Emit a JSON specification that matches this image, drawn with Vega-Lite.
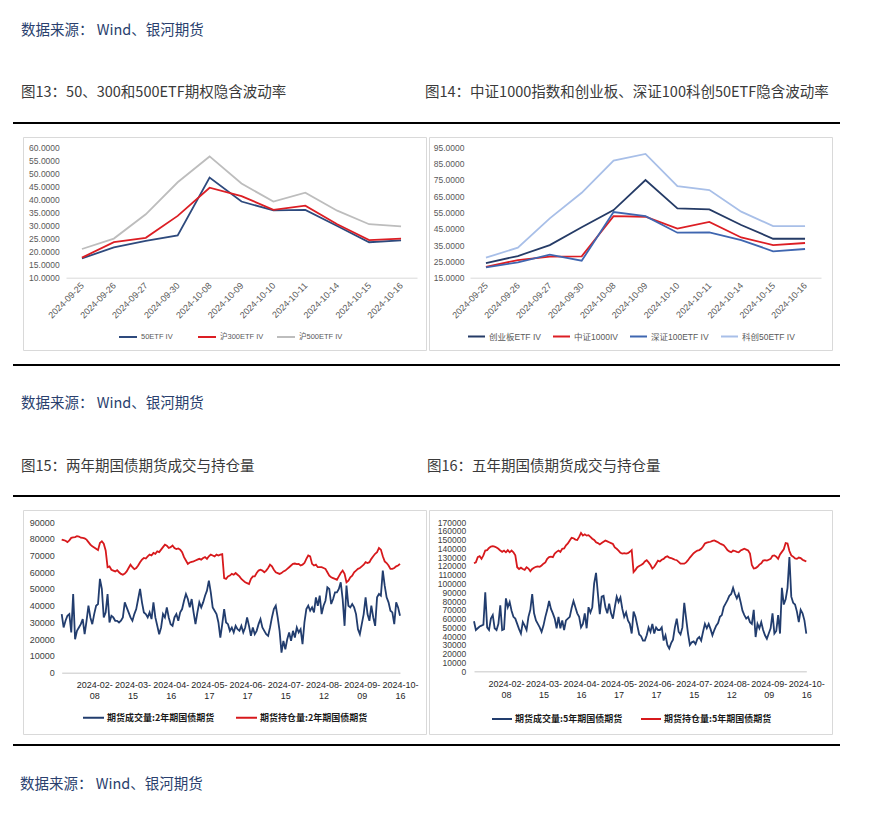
{
"$schema": "https://vega.github.io/schema/vega-lite/v6.json",
"background": "white",
"padding": {"left": 13, "top": 23, "right": 0, "bottom": 0},
"config": {
  "view": {"stroke": null},
  "font": "Liberation Sans, Noto Sans CJK SC",
  "axis": {"labelFont": "Liberation Sans, Noto Sans CJK SC", "title": null, "grid": false, "ticks": false},
  "legend": {"labelFont": "Liberation Sans, Noto Sans CJK SC", "title": null}
},
"datasets": {
"iv1": [
{"d":"2024-09-25","a":17.4,"b":17.7,"c":21.0},
{"d":"2024-09-26","a":21.6,"b":23.6,"c":25.0},
{"d":"2024-09-27","a":24.1,"b":25.3,"c":34.3},
{"d":"2024-09-30","a":26.2,"b":33.7,"c":46.6},
{"d":"2024-10-08","a":48.4,"b":44.5,"c":56.5},
{"d":"2024-10-09","a":39.2,"b":41.3,"c":46.1},
{"d":"2024-10-10","a":35.8,"b":36.0,"c":39.2},
{"d":"2024-10-11","a":36.0,"b":37.6,"c":42.6},
{"d":"2024-10-14","a":29.8,"b":30.5,"c":35.7},
{"d":"2024-10-15","a":23.6,"b":24.4,"c":30.5},
{"d":"2024-10-16","a":24.3,"b":25.0,"c":29.7}
],
"iv2": [
{"d":"2024-09-25","a":24.0,"b":21.7,"c":21.3,"e":27.3},
{"d":"2024-09-26","a":28.3,"b":25.8,"c":24.4,"e":33.4},
{"d":"2024-09-27","a":35.0,"b":27.9,"c":29.1,"e":51.4},
{"d":"2024-09-30","a":45.9,"b":28.1,"c":25.4,"e":67.1},
{"d":"2024-10-08","a":56.5,"b":52.8,"c":55.3,"e":86.8},
{"d":"2024-10-09","a":74.9,"b":52.4,"c":52.8,"e":90.9},
{"d":"2024-10-10","a":57.5,"b":45.1,"c":42.6,"e":71.2},
{"d":"2024-10-11","a":56.9,"b":49.2,"c":42.8,"e":68.8},
{"d":"2024-10-14","a":47.3,"b":39.7,"c":38.1,"e":55.5},
{"d":"2024-10-15","a":38.9,"b":35.0,"c":31.2,"e":46.7},
{"d":"2024-10-16","a":38.9,"b":36.3,"c":32.6,"e":46.7}
],
"bond": [
{"d":"2024-01-16","v2":35000,"o2":79500,"v5":57000,"o5":123000},
{"d":"2024-01-17","v2":27000,"o2":79200,"v5":47000,"o5":124000},
{"d":"2024-01-18","v2":31000,"o2":78800,"v5":49000,"o5":130000},
{"d":"2024-01-19","v2":34000,"o2":78000,"v5":51000,"o5":131000},
{"d":"2024-01-22","v2":35000,"o2":79000,"v5":52000,"o5":128000},
{"d":"2024-01-23","v2":24000,"o2":80500,"v5":53000,"o5":132000},
{"d":"2024-01-24","v2":47000,"o2":80800,"v5":90000,"o5":137500},
{"d":"2024-01-25","v2":20000,"o2":81000,"v5":50000,"o5":138000},
{"d":"2024-01-26","v2":25000,"o2":81500,"v5":47000,"o5":140500},
{"d":"2024-01-29","v2":27000,"o2":81300,"v5":60000,"o5":142000},
{"d":"2024-01-30","v2":29000,"o2":80600,"v5":64000,"o5":142500},
{"d":"2024-01-31","v2":32000,"o2":80500,"v5":49000,"o5":142000},
{"d":"2024-02-01","v2":23000,"o2":80200,"v5":47000,"o5":141000},
{"d":"2024-02-02","v2":31000,"o2":79500,"v5":54000,"o5":139500},
{"d":"2024-02-05","v2":40000,"o2":78000,"v5":75000,"o5":137500},
{"d":"2024-02-06","v2":33000,"o2":76500,"v5":47000,"o5":136000},
{"d":"2024-02-07","v2":29000,"o2":75500,"v5":48000,"o5":137500},
{"d":"2024-02-08","v2":35000,"o2":74800,"v5":83000,"o5":135500},
{"d":"2024-02-19","v2":40000,"o2":74000,"v5":73000,"o5":138000},
{"d":"2024-02-20","v2":41000,"o2":73200,"v5":79000,"o5":135500},
{"d":"2024-02-21","v2":56000,"o2":77500,"v5":69000,"o5":137500},
{"d":"2024-02-22","v2":50000,"o2":78500,"v5":62000,"o5":135500},
{"d":"2024-02-23","v2":33000,"o2":77000,"v5":60000,"o5":132000},
{"d":"2024-02-26","v2":36000,"o2":73000,"v5":54000,"o5":118500},
{"d":"2024-02-27","v2":47000,"o2":63000,"v5":48000,"o5":116500},
{"d":"2024-02-28","v2":30000,"o2":63500,"v5":43000,"o5":118000},
{"d":"2024-02-29","v2":34000,"o2":61500,"v5":56000,"o5":116500},
{"d":"2024-03-01","v2":33000,"o2":61000,"v5":52000,"o5":115500},
{"d":"2024-03-04","v2":31000,"o2":60500,"v5":47000,"o5":118500},
{"d":"2024-03-05","v2":31000,"o2":61200,"v5":62000,"o5":117000},
{"d":"2024-03-06","v2":30000,"o2":60000,"v5":70000,"o5":114000},
{"d":"2024-03-07","v2":31000,"o2":59000,"v5":88000,"o5":116500},
{"d":"2024-03-08","v2":33000,"o2":58500,"v5":66000,"o5":118000},
{"d":"2024-03-11","v2":42000,"o2":59200,"v5":58000,"o5":119000},
{"d":"2024-03-12","v2":39000,"o2":60500,"v5":54000,"o5":119500},
{"d":"2024-03-13","v2":36000,"o2":62500,"v5":50000,"o5":119000},
{"d":"2024-03-14","v2":33000,"o2":64500,"v5":45000,"o5":120500},
{"d":"2024-03-15","v2":31000,"o2":63000,"v5":52000,"o5":122500},
{"d":"2024-03-18","v2":35000,"o2":61800,"v5":62000,"o5":124000},
{"d":"2024-03-19","v2":38000,"o2":62500,"v5":70000,"o5":128000},
{"d":"2024-03-20","v2":44000,"o2":64000,"v5":80000,"o5":130000},
{"d":"2024-03-21","v2":50000,"o2":66000,"v5":71000,"o5":130500},
{"d":"2024-03-22","v2":42000,"o2":67500,"v5":66000,"o5":130000},
{"d":"2024-03-25","v2":36000,"o2":68500,"v5":60000,"o5":134000},
{"d":"2024-03-26","v2":35000,"o2":68200,"v5":49000,"o5":136000},
{"d":"2024-03-27","v2":33000,"o2":69500,"v5":62000,"o5":137500},
{"d":"2024-03-28","v2":36000,"o2":70500,"v5":49000,"o5":136000},
{"d":"2024-03-29","v2":32000,"o2":70000,"v5":58000,"o5":139500},
{"d":"2024-04-01","v2":42000,"o2":71500,"v5":47000,"o5":140000},
{"d":"2024-04-02","v2":33000,"o2":71000,"v5":58000,"o5":143500},
{"d":"2024-04-03","v2":28000,"o2":72500,"v5":60000,"o5":145500},
{"d":"2024-04-08","v2":23000,"o2":72000,"v5":62000,"o5":149000},
{"d":"2024-04-09","v2":27000,"o2":73500,"v5":72000,"o5":152000},
{"d":"2024-04-10","v2":35000,"o2":75000,"v5":80000,"o5":151500},
{"d":"2024-04-11","v2":33000,"o2":76500,"v5":73000,"o5":150000},
{"d":"2024-04-12","v2":39000,"o2":75800,"v5":66000,"o5":149500},
{"d":"2024-04-15","v2":33000,"o2":74500,"v5":62000,"o5":153000},
{"d":"2024-04-16","v2":29000,"o2":75000,"v5":50000,"o5":157500},
{"d":"2024-04-17","v2":28000,"o2":76000,"v5":54000,"o5":154500},
{"d":"2024-04-18","v2":33000,"o2":74500,"v5":66000,"o5":156000},
{"d":"2024-04-19","v2":35000,"o2":73800,"v5":49000,"o5":154500},
{"d":"2024-04-22","v2":31000,"o2":74200,"v5":73000,"o5":155000},
{"d":"2024-04-23","v2":36000,"o2":73500,"v5":67000,"o5":153000},
{"d":"2024-04-24","v2":38000,"o2":72000,"v5":73000,"o5":151000},
{"d":"2024-04-25","v2":43000,"o2":69000,"v5":100000,"o5":149500},
{"d":"2024-04-26","v2":47000,"o2":67000,"v5":112000,"o5":147000},
{"d":"2024-04-29","v2":44000,"o2":65000,"v5":88000,"o5":146000},
{"d":"2024-04-30","v2":39000,"o2":65800,"v5":65000,"o5":144500},
{"d":"2024-05-06","v2":44000,"o2":66200,"v5":85000,"o5":146000},
{"d":"2024-05-07","v2":36000,"o2":66500,"v5":86000,"o5":147500},
{"d":"2024-05-08","v2":29000,"o2":67000,"v5":73000,"o5":149000},
{"d":"2024-05-09","v2":36000,"o2":67500,"v5":66000,"o5":148000},
{"d":"2024-05-10","v2":42000,"o2":68000,"v5":77000,"o5":147000},
{"d":"2024-05-13","v2":39000,"o2":67500,"v5":66000,"o5":146000},
{"d":"2024-05-14","v2":42000,"o2":68500,"v5":60000,"o5":145000},
{"d":"2024-05-15","v2":46000,"o2":69000,"v5":73000,"o5":141000},
{"d":"2024-05-16","v2":49000,"o2":68000,"v5":85000,"o5":139500},
{"d":"2024-05-17","v2":55000,"o2":69500,"v5":79000,"o5":137500},
{"d":"2024-05-20","v2":48000,"o2":70500,"v5":84000,"o5":135000},
{"d":"2024-05-21","v2":39000,"o2":70000,"v5":71000,"o5":134000},
{"d":"2024-05-22","v2":37000,"o2":69500,"v5":62000,"o5":134500},
{"d":"2024-05-23","v2":35000,"o2":70500,"v5":67000,"o5":134000},
{"d":"2024-05-24","v2":30000,"o2":70000,"v5":58000,"o5":134500},
{"d":"2024-05-27","v2":21000,"o2":70500,"v5":54000,"o5":136000},
{"d":"2024-05-28","v2":29000,"o2":70800,"v5":43000,"o5":138000},
{"d":"2024-05-29","v2":38000,"o2":56500,"v5":68000,"o5":113000},
{"d":"2024-05-30","v2":30000,"o2":56000,"v5":62000,"o5":115500},
{"d":"2024-05-31","v2":29000,"o2":57500,"v5":52000,"o5":118500},
{"d":"2024-06-03","v2":25000,"o2":58000,"v5":42000,"o5":120000},
{"d":"2024-06-04","v2":27000,"o2":59000,"v5":40000,"o5":121000},
{"d":"2024-06-05","v2":24000,"o2":58500,"v5":35000,"o5":122500},
{"d":"2024-06-06","v2":28000,"o2":59500,"v5":35000,"o5":125000},
{"d":"2024-06-07","v2":26000,"o2":58500,"v5":41000,"o5":126500},
{"d":"2024-06-11","v2":25000,"o2":57500,"v5":50000,"o5":124000},
{"d":"2024-06-12","v2":28000,"o2":56000,"v5":45000,"o5":121000},
{"d":"2024-06-13","v2":24000,"o2":55000,"v5":54000,"o5":117000},
{"d":"2024-06-14","v2":27000,"o2":54000,"v5":43000,"o5":119000},
{"d":"2024-06-17","v2":33000,"o2":53500,"v5":50000,"o5":122500},
{"d":"2024-06-18","v2":28000,"o2":53000,"v5":47000,"o5":126000},
{"d":"2024-06-19","v2":22000,"o2":56000,"v5":47000,"o5":125000},
{"d":"2024-06-20","v2":27000,"o2":57500,"v5":50000,"o5":127000},
{"d":"2024-06-21","v2":23000,"o2":57500,"v5":35000,"o5":128000},
{"d":"2024-06-24","v2":25000,"o2":59500,"v5":41000,"o5":130000},
{"d":"2024-06-25","v2":29000,"o2":61000,"v5":30000,"o5":131000},
{"d":"2024-06-26","v2":32000,"o2":61500,"v5":26000,"o5":129500},
{"d":"2024-06-27","v2":27000,"o2":61000,"v5":32000,"o5":129000},
{"d":"2024-06-28","v2":25000,"o2":60000,"v5":36000,"o5":128000},
{"d":"2024-07-01","v2":23000,"o2":61000,"v5":50000,"o5":127000},
{"d":"2024-07-02","v2":22000,"o2":62500,"v5":60000,"o5":126500},
{"d":"2024-07-03","v2":27000,"o2":64500,"v5":45000,"o5":124500},
{"d":"2024-07-04","v2":33000,"o2":63500,"v5":42000,"o5":122500},
{"d":"2024-07-05","v2":38000,"o2":61500,"v5":50000,"o5":122500},
{"d":"2024-07-08","v2":40000,"o2":60000,"v5":78000,"o5":122500},
{"d":"2024-07-09","v2":33000,"o2":59500,"v5":60000,"o5":124000},
{"d":"2024-07-10","v2":25000,"o2":59000,"v5":43000,"o5":126500},
{"d":"2024-07-11","v2":12000,"o2":59500,"v5":30000,"o5":129500},
{"d":"2024-07-12","v2":19000,"o2":60500,"v5":33000,"o5":132000},
{"d":"2024-07-15","v2":14000,"o2":61000,"v5":34000,"o5":134500},
{"d":"2024-07-16","v2":20000,"o2":62000,"v5":31000,"o5":136000},
{"d":"2024-07-17","v2":24000,"o2":63000,"v5":37000,"o5":137500},
{"d":"2024-07-18","v2":19000,"o2":64000,"v5":39000,"o5":138000},
{"d":"2024-07-19","v2":25000,"o2":65000,"v5":35000,"o5":139500},
{"d":"2024-07-22","v2":21000,"o2":65200,"v5":45000,"o5":142000},
{"d":"2024-07-23","v2":27000,"o2":64800,"v5":54000,"o5":145500},
{"d":"2024-07-24","v2":24000,"o2":65000,"v5":49000,"o5":146500},
{"d":"2024-07-25","v2":26000,"o2":64000,"v5":54000,"o5":147000},
{"d":"2024-07-26","v2":17000,"o2":64500,"v5":48000,"o5":147500},
{"d":"2024-07-29","v2":30000,"o2":65500,"v5":41000,"o5":148500},
{"d":"2024-07-30","v2":38000,"o2":68000,"v5":47000,"o5":149000},
{"d":"2024-07-31","v2":40000,"o2":70000,"v5":52000,"o5":148000},
{"d":"2024-08-01","v2":37000,"o2":69500,"v5":55000,"o5":147000},
{"d":"2024-08-02","v2":39000,"o2":65000,"v5":62000,"o5":145500},
{"d":"2024-08-05","v2":36000,"o2":64000,"v5":64000,"o5":144500},
{"d":"2024-08-06","v2":45000,"o2":64500,"v5":73000,"o5":143500},
{"d":"2024-08-07","v2":40000,"o2":63000,"v5":77000,"o5":141000},
{"d":"2024-08-08","v2":46000,"o2":63000,"v5":81000,"o5":138000},
{"d":"2024-08-09","v2":35000,"o2":63000,"v5":86000,"o5":136500},
{"d":"2024-08-12","v2":40000,"o2":62500,"v5":88000,"o5":135500},
{"d":"2024-08-13","v2":43000,"o2":62000,"v5":95000,"o5":137500},
{"d":"2024-08-14","v2":51000,"o2":60000,"v5":88000,"o5":137000},
{"d":"2024-08-15","v2":50000,"o2":58000,"v5":83000,"o5":136000},
{"d":"2024-08-16","v2":41000,"o2":57000,"v5":88000,"o5":135500},
{"d":"2024-08-19","v2":44000,"o2":56500,"v5":79000,"o5":137500},
{"d":"2024-08-20","v2":48000,"o2":56000,"v5":69000,"o5":138500},
{"d":"2024-08-21","v2":48000,"o2":55500,"v5":64000,"o5":139500},
{"d":"2024-08-22","v2":50000,"o2":57500,"v5":60000,"o5":138500},
{"d":"2024-08-23","v2":54000,"o2":59500,"v5":62000,"o5":137500},
{"d":"2024-08-26","v2":44000,"o2":61000,"v5":56000,"o5":134000},
{"d":"2024-08-27","v2":28000,"o2":59000,"v5":54000,"o5":121000},
{"d":"2024-08-28","v2":52000,"o2":54000,"v5":70000,"o5":117000},
{"d":"2024-08-29","v2":40000,"o2":55000,"v5":39000,"o5":117500},
{"d":"2024-08-30","v2":39000,"o2":57000,"v5":54000,"o5":119000},
{"d":"2024-09-02","v2":41000,"o2":58000,"v5":49000,"o5":121500},
{"d":"2024-09-03","v2":39000,"o2":60000,"v5":56000,"o5":123000},
{"d":"2024-09-04","v2":35000,"o2":61000,"v5":47000,"o5":126000},
{"d":"2024-09-05","v2":26000,"o2":62000,"v5":41000,"o5":126500},
{"d":"2024-09-06","v2":23000,"o2":62500,"v5":37000,"o5":126000},
{"d":"2024-09-09","v2":29000,"o2":63500,"v5":43000,"o5":127000},
{"d":"2024-09-10","v2":35000,"o2":64500,"v5":49000,"o5":128000},
{"d":"2024-09-11","v2":45000,"o2":66000,"v5":66000,"o5":131500},
{"d":"2024-09-12","v2":35000,"o2":65500,"v5":43000,"o5":132000},
{"d":"2024-09-13","v2":31000,"o2":66000,"v5":46000,"o5":130500},
{"d":"2024-09-18","v2":40000,"o2":68000,"v5":64000,"o5":128000},
{"d":"2024-09-19","v2":33000,"o2":69500,"v5":43000,"o5":133000},
{"d":"2024-09-20","v2":28000,"o2":71000,"v5":95000,"o5":136000},
{"d":"2024-09-23","v2":45000,"o2":72000,"v5":76000,"o5":139000},
{"d":"2024-09-24","v2":47000,"o2":74500,"v5":82000,"o5":146000},
{"d":"2024-09-25","v2":46000,"o2":73500,"v5":95000,"o5":145500},
{"d":"2024-09-26","v2":61000,"o2":69500,"v5":130000,"o5":137000},
{"d":"2024-09-27","v2":52000,"o2":66500,"v5":85000,"o5":132000},
{"d":"2024-09-30","v2":45000,"o2":65500,"v5":78000,"o5":130500},
{"d":"2024-10-08","v2":42000,"o2":64000,"v5":76000,"o5":128500},
{"d":"2024-10-09","v2":37000,"o2":62000,"v5":68000,"o5":128000},
{"d":"2024-10-10","v2":36000,"o2":62000,"v5":56000,"o5":129500},
{"d":"2024-10-11","v2":29000,"o2":62500,"v5":70000,"o5":129000},
{"d":"2024-10-14","v2":42000,"o2":63500,"v5":66000,"o5":127000},
{"d":"2024-10-15","v2":39000,"o2":64000,"v5":58000,"o5":126000},
{"d":"2024-10-16","v2":34000,"o2":65000,"v5":43000,"o5":125000}
]
},
"resolve": {"scale": {"color": "independent"}, "legend": {"color": "independent"}},
"vconcat": [
 {"resolve": {"scale": {"color": "independent"}, "legend": {"color": "independent"}},
  "vconcat": [
   {"hconcat": [
     {"width": 407, "height": 2, "view": {"fill": "#000000", "stroke": null},
      "data": {"values": [{}]}, "mark": {"type": "point", "size": 0, "opacity": 0},
      "title": {"text": "数据来源：   Wind、银河期货", "subtitle": "图13：50、300和500ETF期权隐含波动率",
        "anchor": "start", "dx": 8, "offset": 21.5, "font": "Noto Sans CJK SC", "fontSize": 14.5, "fontWeight": "normal", "color": "#2a3f6e",
        "subtitleFont": "Noto Sans CJK SC", "subtitleFontSize": 14.5, "subtitleColor": "#3a3a3a", "subtitlePadding": 47.5}},
     {"width": 420, "height": 2, "view": {"fill": "#000000", "stroke": null},
      "data": {"values": [{}]}, "mark": {"type": "point", "size": 0, "opacity": 0},
      "title": {"text": "\u3000", "subtitle": "图14：中证1000指数和创业板、深证100科创50ETF隐含波动率",
        "anchor": "start", "dx": 5, "offset": 21.5, "font": "Noto Sans CJK SC", "fontSize": 14.5, "fontWeight": "normal", "color": "#2a3f6e",
        "subtitleFont": "Noto Sans CJK SC", "subtitleFontSize": 14.5, "subtitleColor": "#3a3a3a", "subtitlePadding": 47.5}}
   ], "spacing": 0},
   {"resolve": {"scale": {"color": "independent"}, "legend": {"color": "independent"}},
    "hconcat": [
     {"width": 8, "height": 1, "data": {"values": [{}]}, "mark": {"type": "point", "size": 0, "opacity": 0}},
     {"width": 403, "height": 213, "view": {"stroke": "#d9d9d9", "strokeWidth": 1, "fill": "white"},
      "data": {"name": "iv1"},
      "transform": [{"fold": ["a", "b", "c"], "as": ["k", "v"]}],
      "mark": {"type": "line", "strokeWidth": 1.8},
      "encoding": {
        "x": {"field": "d", "type": "ordinal", "scale": {"type": "point", "range": [43, 394], "padding": 0.5},
          "axis": {"labelAngle": -45, "labelAlign": "right", "labelBaseline": "middle", "labelPadding": 6, "offset": -72.3,
            "domainColor": "#d9d9d9", "domainWidth": 1, "labelFontSize": 9, "labelColor": "#595959"}},
        "y": {"field": "v", "type": "quantitative", "scale": {"domain": [10, 60], "range": [140.7, 10.3], "zero": false, "nice": false},
          "axis": {"values": [10,15,20,25,30,35,40,45,50,55,60], "format": ".4f", "offset": -38.3, "domain": false, "labelPadding": 2,
            "labelFontSize": 8.5, "labelColor": "#595959", "labelOverlap": false}},
        "color": {"field": "k", "type": "nominal",
          "scale": {"domain": ["a", "b", "c"], "range": ["#2e4a7d", "#dc1e24", "#bdbdbd"]},
          "legend": {"orient": "none", "legendX": 95, "legendY": 190, "direction": "horizontal", "symbolType": "stroke",
            "symbolStrokeWidth": 2, "symbolSize": 324, "labelFontSize": 7.5, "labelColor": "#595959", "columnPadding": 9, "gridAlign": "all", "labelOffset": 3,
            "labelExpr": "datum.label == 'a' ? '50ETF IV' : datum.label == 'b' ? '沪300ETF IV' : '沪500ETF IV'"}}
      }},
     {"width": 403, "height": 213, "view": {"stroke": "#d9d9d9", "strokeWidth": 1, "fill": "white"},
      "data": {"name": "iv2"},
      "transform": [{"fold": ["a", "b", "c", "e"], "as": ["k", "v"]}],
      "mark": {"type": "line", "strokeWidth": 1.8},
      "encoding": {
        "x": {"field": "d", "type": "ordinal", "scale": {"type": "point", "range": [41, 392], "padding": 0.5},
          "axis": {"labelAngle": -45, "labelAlign": "right", "labelBaseline": "middle", "labelPadding": 6, "offset": -72.3,
            "domainColor": "#d9d9d9", "domainWidth": 1, "labelFontSize": 9, "labelColor": "#595959"}},
        "y": {"field": "v", "type": "quantitative", "scale": {"domain": [15, 95], "range": [140.7, 10.3], "zero": false, "nice": false},
          "axis": {"values": [15,25,35,45,55,65,75,85,95], "format": ".4f", "offset": -37, "domain": false, "labelPadding": 2,
            "labelFontSize": 8.5, "labelColor": "#595959", "labelOverlap": false}},
        "color": {"field": "k", "type": "nominal",
          "scale": {"domain": ["a", "b", "c", "e"], "range": ["#253b66", "#dc1e24", "#3f66b0", "#a8bfe8"]},
          "legend": {"orient": "none", "legendX": 38, "legendY": 190, "direction": "horizontal", "symbolType": "stroke",
            "symbolStrokeWidth": 2, "symbolSize": 289, "labelFontSize": 8.5, "labelColor": "#595959", "columnPadding": 8, "labelOffset": 3,
            "labelExpr": "datum.label == 'a' ? '创业板ETF IV' : datum.label == 'b' ? '中证1000IV' : datum.label == 'c' ? '深证100ETF IV' : '科创50ETF IV'"}}
      }}
   ], "spacing": 1}
 ], "spacing": 12},
 {"resolve": {"scale": {"color": "independent"}, "legend": {"color": "independent"}},
  "vconcat": [
   {"width": 827, "height": 2, "view": {"fill": "#000000", "stroke": null},
    "data": {"values": [{}]}, "mark": {"type": "point", "size": 0, "opacity": 0}},
   {"resolve": {"scale": {"color": "independent"}, "legend": {"color": "independent"}},
    "vconcat": [
     {"hconcat": [
       {"width": 407, "height": 2, "view": {"fill": "#000000", "stroke": null},
        "data": {"values": [{}]}, "mark": {"type": "point", "size": 0, "opacity": 0},
        "title": {"text": "数据来源：   Wind、银河期货", "subtitle": "图15：两年期国债期货成交与持仓量",
          "anchor": "start", "dx": 8, "offset": 20.5, "font": "Noto Sans CJK SC", "fontSize": 14.5, "fontWeight": "normal", "color": "#2a3f6e",
          "subtitleFont": "Noto Sans CJK SC", "subtitleFontSize": 14.5, "subtitleColor": "#3a3a3a", "subtitlePadding": 48.5}},
       {"width": 420, "height": 2, "view": {"fill": "#000000", "stroke": null},
        "data": {"values": [{}]}, "mark": {"type": "point", "size": 0, "opacity": 0},
        "title": {"text": "\u3000", "subtitle": "图16：五年期国债期货成交与持仓量",
          "anchor": "start", "dx": 7, "offset": 20.5, "font": "Noto Sans CJK SC", "fontSize": 14.5, "fontWeight": "normal", "color": "#2a3f6e",
          "subtitleFont": "Noto Sans CJK SC", "subtitleFontSize": 14.5, "subtitleColor": "#3a3a3a", "subtitlePadding": 48.5}}
     ], "spacing": 0},
     {"resolve": {"scale": {"color": "independent"}, "legend": {"color": "independent"}},
      "vconcat": [
       {"resolve": {"scale": {"color": "independent"}, "legend": {"color": "independent"}},
        "hconcat": [
         {"width": 8, "height": 1, "data": {"values": [{}]}, "mark": {"type": "point", "size": 0, "opacity": 0}},
         {"width": 403, "height": 224, "view": {"stroke": "#d9d9d9", "strokeWidth": 1, "fill": "white"},
          "data": {"name": "bond"},
          "transform": [{"fold": ["v2", "o2"], "as": ["k", "v"]}],
          "mark": {"type": "line", "strokeWidth": 1.8},
          "encoding": {
            "x": {"field": "d", "type": "ordinal", "scale": {"type": "point", "range": [38.7, 377], "padding": 0},
              "axis": {"labelAngle": 0, "labelAlign": "center", "labelBaseline": "top", "labelPadding": 8, "offset": -61.3,
                "domainColor": "#d9d9d9", "domainWidth": 1.5, "labelFontSize": 9, "labelColor": "#262626", "labelOverlap": false, "labelLineHeight": 11,
                "labelExpr": "indexof(['2024-02-08','2024-03-15','2024-04-16','2024-05-17','2024-06-17','2024-07-15','2024-08-12','2024-09-09','2024-10-16'], datum.value) >= 0 ? [substring(datum.value, 0, 8), substring(datum.value, 8, 10)] : ''"}},
            "y": {"field": "v", "type": "quantitative", "scale": {"domain": [0, 90000], "range": [162.7, 12], "nice": false},
              "axis": {"values": [0,10000,20000,30000,40000,50000,60000,70000,80000,90000], "format": "d", "offset": -33.3, "domain": false, "labelPadding": 2,
                "labelFontSize": 9, "labelColor": "#404040", "labelOverlap": false}},
            "color": {"field": "k", "type": "nominal",
              "scale": {"domain": ["v2", "o2"], "range": ["#223d6e", "#d7191c"]},
              "legend": {"orient": "none", "legendX": 59, "legendY": 196, "direction": "horizontal", "symbolType": "stroke",
                "symbolStrokeWidth": 2, "symbolSize": 441, "labelFontSize": 9, "labelFontWeight": "bold", "labelFont": "Noto Sans CJK SC", "labelColor": "#1a1a1a", "columnPadding": 17, "labelOffset": 2,
                "labelExpr": "datum.label == 'v2' ? '期货成交量:2年期国债期货' : '期货持仓量:2年期国债期货'"}}
          }},
         {"width": 403, "height": 224, "view": {"stroke": "#d9d9d9", "strokeWidth": 1, "fill": "white"},
          "data": {"name": "bond"},
          "transform": [{"fold": ["v5", "o5"], "as": ["k", "v"]}],
          "mark": {"type": "line", "strokeWidth": 1.8},
          "encoding": {
            "x": {"field": "d", "type": "ordinal", "scale": {"type": "point", "range": [45, 377.3], "padding": 0},
              "axis": {"labelAngle": 0, "labelAlign": "center", "labelBaseline": "top", "labelPadding": 8, "offset": -62.7,
                "domainColor": "#d9d9d9", "domainWidth": 1.5, "labelFontSize": 9, "labelColor": "#262626", "labelOverlap": false, "labelLineHeight": 11,
                "labelExpr": "indexof(['2024-02-08','2024-03-15','2024-04-16','2024-05-17','2024-06-17','2024-07-15','2024-08-12','2024-09-09','2024-10-16'], datum.value) >= 0 ? [substring(datum.value, 0, 8), substring(datum.value, 8, 10)] : ''"}},
            "y": {"field": "v", "type": "quantitative", "scale": {"domain": [0, 170000], "range": [161.3, 12], "nice": false},
              "axis": {"values": [0,10000,20000,30000,40000,50000,60000,70000,80000,90000,100000,110000,120000,130000,140000,150000,160000,170000], "format": "d", "offset": -38.7, "domain": false, "labelPadding": 2,
                "labelFontSize": 8.5, "labelColor": "#404040", "labelOverlap": false}},
            "color": {"field": "k", "type": "nominal",
              "scale": {"domain": ["v5", "o5"], "range": ["#223d6e", "#d7191c"]},
              "legend": {"orient": "none", "legendX": 62, "legendY": 198, "direction": "horizontal", "symbolType": "stroke",
                "symbolStrokeWidth": 2, "symbolSize": 400, "labelFontSize": 9, "labelFontWeight": "bold", "labelFont": "Noto Sans CJK SC", "labelColor": "#1a1a1a", "columnPadding": 14, "labelOffset": 2,
                "labelExpr": "datum.label == 'v5' ? '期货成交量:5年期国债期货' : '期货持仓量:5年期国债期货'"}}
          }}
       ], "spacing": 1},
       {"width": 827, "height": 2, "view": {"fill": "#000000", "stroke": null},
        "data": {"values": [{}]}, "mark": {"type": "point", "size": 0, "opacity": 0},
        "title": {"text": "数据来源：   Wind、银河期货", "orient": "bottom", "anchor": "start", "dx": 7, "offset": 32,
          "font": "Noto Sans CJK SC", "fontSize": 14.5, "fontWeight": "normal", "color": "#2a3f6e"}}
     ], "spacing": 9}
   ], "spacing": 12}
 ], "spacing": 30}
],
"spacing": 13
}
